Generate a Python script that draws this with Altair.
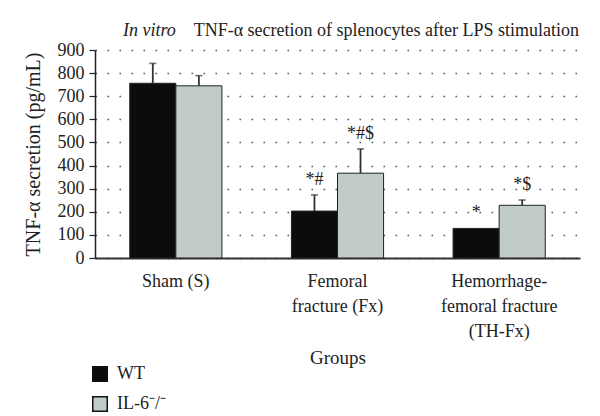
import altair as alt
import pandas as pd

groups = ["Sham (S)", "Femoral\nfracture (Fx)", "Hemorrhage-\nfemoral fracture\n(TH-Fx)"]
genotypes = ["WT", "IL-6⁻/⁻"]
wt_mean = [756, 203, 128]
wt_err = [86, 70, 0]
il6_mean = [745, 367, 228]
il6_err = [44, 105, 23]
wt_marks = ["", "*#", "*"]
il6_marks = ["", "*#$", "*$"]
y_ticks = [0, 100, 200, 300, 400, 500, 600, 700, 800, 900]

rows = []
for i, g in enumerate(groups):
    rows.append({"group": g, "geno": genotypes[0], "mean": wt_mean[i],
                 "top": wt_mean[i] + wt_err[i], "err": wt_err[i], "mark": wt_marks[i]})
    rows.append({"group": g, "geno": genotypes[1], "mean": il6_mean[i],
                 "top": il6_mean[i] + il6_err[i], "err": il6_err[i], "mark": il6_marks[i]})
df = pd.DataFrame(rows)

FONT = "Liberation Serif"
YTITLE = "TNF-α secretion (pg/mL)"

x = alt.X("group:N", sort=groups, title="Groups",
          scale=alt.Scale(paddingInner=0.43, paddingOuter=0.215),
          axis=alt.Axis(labelExpr="split(datum.label, '\\n')", labelAngle=0,
                        ticks=False, domainColor="#333333", domainWidth=2,
                        labelFont=FONT, labelFontSize=18, labelColor="#222",
                        labelPadding=14, labelLineHeight=25,
                        titleFont=FONT, titleFontSize=19, titleFontWeight="normal",
                        titleColor="#222", titlePadding=8))
xo = alt.XOffset("geno:N", sort=genotypes, scale=alt.Scale(paddingInner=0, paddingOuter=0))

yscale = alt.Scale(domain=[0, 900], nice=False)
yaxis = alt.Axis(values=y_ticks, tickCount=10, labelOverlap=False, grid=True,
                 gridDash=[1.6, 10.4], gridColor="#555",
                 gridWidth=1.5, domainColor="#222", domainWidth=1.5,
                 tickColor="#222", tickSize=6, tickWidth=1.2,
                 labelFont=FONT, labelFontSize=18, labelColor="#222", labelPadding=5,
                 titleFont=FONT, titleFontSize=20, titleFontWeight="normal",
                 titleColor="#222", titlePadding=14)

color = alt.Color("geno:N", sort=genotypes,
                  scale=alt.Scale(domain=genotypes, range=["#0c0c0e", "#c1ccc8"]),
                  legend=alt.Legend(title=None, orient="none", legendX=-4, legendY=315,
                                    symbolType="square", symbolSize=210,
                                    symbolStrokeColor="#111", symbolStrokeWidth=1.5,
                                    labelFont=FONT, labelFontSize=18, labelColor="#222",
                                    rowPadding=8, labelOffset=8))

bars = alt.Chart(df).mark_bar(stroke="#222", strokeWidth=1).encode(
    x=x, xOffset=xo, y=alt.Y("mean:Q", title=YTITLE, scale=yscale, axis=yaxis), color=color)

errdf = df[df["err"] > 0]
err = alt.Chart(errdf).mark_rule(color="#333", strokeWidth=1.8).encode(
    x=alt.X("group:N", sort=groups), xOffset=xo,
    y=alt.Y("mean:Q", title=YTITLE, scale=yscale, axis=yaxis), y2="top:Q")
cap = alt.Chart(errdf).mark_tick(color="#333", thickness=1.6, size=7, orient="horizontal").encode(
    x=alt.X("group:N", sort=groups), xOffset=xo,
    y=alt.Y("top:Q", title=YTITLE, scale=yscale, axis=yaxis))

ann = alt.Chart(df).mark_text(font=FONT, fontSize=18, baseline="bottom", dy=-6, color="#222").encode(
    x=alt.X("group:N", sort=groups), xOffset=xo,
    y=alt.Y("top:Q", title=YTITLE, scale=yscale, axis=yaxis), text="mark:N")

title1 = alt.Chart(pd.DataFrame({"t": ["In vitro"]})).mark_text(
    font=FONT, fontSize=18, fontStyle="italic", align="left", baseline="alphabetic",
    color="#222").encode(x=alt.value(28), y=alt.value(-14), text="t:N")
title2 = alt.Chart(pd.DataFrame({"t": ["TNF-α secretion of splenocytes after LPS stimulation"]})).mark_text(
    font=FONT, fontSize=18, align="right", baseline="alphabetic",
    color="#222").encode(x=alt.value(484), y=alt.value(-14), text="t:N")

chart = alt.layer(bars, err, cap, ann, title1, title2).properties(
    width=485, height=208,
    autosize=alt.AutoSizeParams(type="none"),
    padding={"left": 87, "top": 42, "right": 12, "bottom": 158},
).configure_view(stroke=None)

chart.save("out.html", embed_options={"renderer": "svg", "actions": False})
